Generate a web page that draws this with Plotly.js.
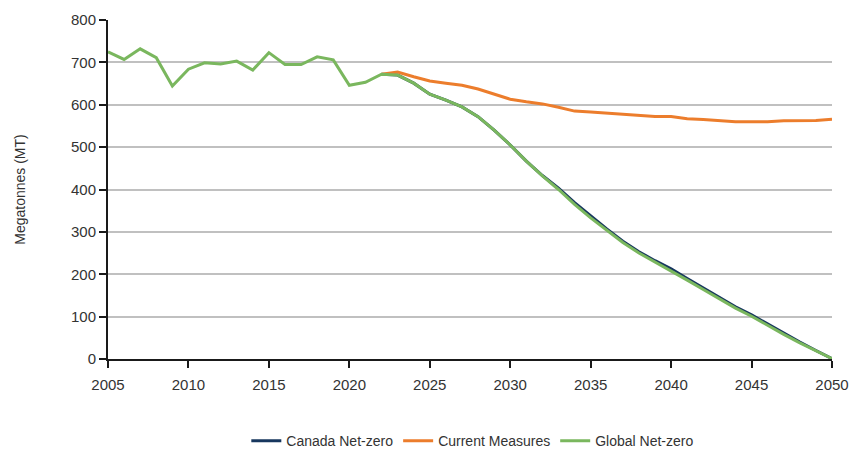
<!DOCTYPE html>
<html>
<head>
<meta charset="utf-8">
<script src="https://cdn.plot.ly/plotly-3.0.1.min.js"></script>
<style>html,body{margin:0;padding:0;background:#fff;}#chart{width:855px;height:453px;}</style>
</head>
<body>
<div id="chart"></div>
<script>
// Historic years (shared)
const histYears = [2005,2006,2007,2008,2009,2010,2011,2012,2013,2014,2015,2016,2017,2018,2019,2020,2021,2022];
const histValues = [725,707,732,711,644,684,699,696,703,682,723,695,695,713,706,646,653,672];

// Projection years
const projYears = [2022,2023,2024,2025,2026,2027,2028,2029,2030,2031,2032,2033,2034,2035,2036,2037,2038,2039,2040,2041,2042,2043,2044,2045,2046,2047,2048,2049,2050];
const currentMeasures = [672,677,666,656,651,646,637,625,613,607,602,594,585,583,580,577,574,572,572,567,565,563,560,560,560,562,562,563,566];
const globalNetZero = [672,670,651,625,611,595,572,540,505,467,432,400,365,333,303,275,250,229,209,186,164,142,120,101,79,58,38,19,1];
const canadaNetZero = [672,670,651,625,611,595,572,540,505,467,433,403,369,337,307,278,253,232,213,190,167,145,123,104,82,60,40,20,1];

const traces = [
  {x: projYears, y: canadaNetZero, name: 'Canada Net-zero', type: 'scatter', mode: 'lines',
   line: {color: '#17375e', width: 3}},
  {x: projYears, y: currentMeasures, name: 'Current Measures', type: 'scatter', mode: 'lines',
   line: {color: '#ec7d2c', width: 3}},
  {x: histYears.concat(projYears.slice(1)), y: histValues.concat(globalNetZero.slice(1)), name: 'Global Net-zero', type: 'scatter', mode: 'lines',
   line: {color: '#7ab75e', width: 3}}
];

const layout = {
  width: 855, height: 453,
  margin: {l: 108, r: 23, t: 20, b: 94, autoexpand: false},
  paper_bgcolor: '#fff', plot_bgcolor: '#fff',
  font: {family: 'Liberation Sans, Arial, sans-serif', color: '#333', size: 15},
  showlegend: true,
  legend: {orientation: 'h', x: 0.553, xanchor: 'center', xref: 'container',
           y: 0.026, yanchor: 'middle', yref: 'container',
           font: {size: 14, color: '#333'}, itemwidth: 30, traceorder: 'normal'},
  xaxis: {
    range: [2005, 2050], tickmode: 'linear', tick0: 2005, dtick: 5,
    showgrid: false, zeroline: false,
    showline: true, linecolor: '#1a1a1a', linewidth: 2,
    ticks: 'outside', ticklen: 7, tickwidth: 2, tickcolor: '#1a1a1a',
    ticklabelstandoff: 4,
    tickfont: {size: 15, color: '#333'}
  },
  yaxis: {
    range: [0, 800], tickmode: 'linear', tick0: 0, dtick: 100,
    showgrid: true, gridcolor: '#c0c0c0', gridwidth: 2, zeroline: false,
    showline: true, linecolor: '#1a1a1a', linewidth: 2,
    ticks: 'outside', ticklen: 7, tickwidth: 2, tickcolor: '#1a1a1a',
    tickfont: {size: 15, color: '#333'},
    title: {text: 'Megatonnes (MT)', font: {size: 14, color: '#333'}, standoff: 42}
  }
};

Plotly.newPlot('chart', traces, layout, {displayModeBar: false, staticPlot: true});
</script>
</body>
</html>
